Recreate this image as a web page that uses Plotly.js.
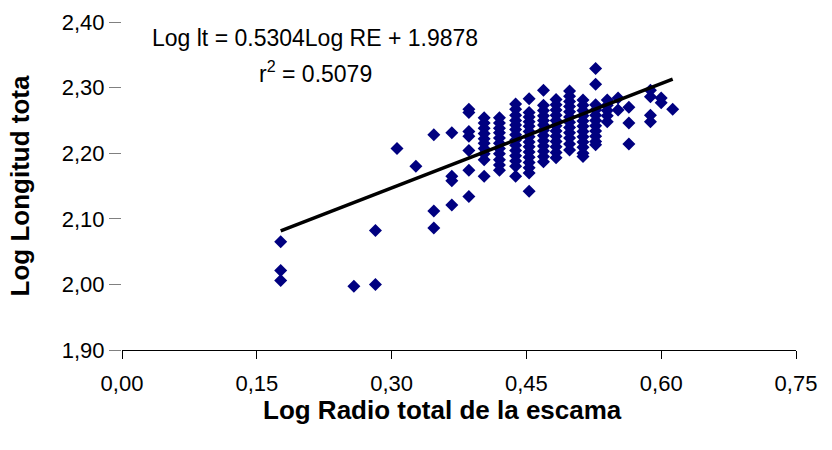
<!DOCTYPE html>
<html>
<head>
<meta charset="utf-8">
<script src="https://cdn.plot.ly/plotly-3.0.1.min.js"></script>
<style>html,body{margin:0;padding:0;background:#fff;}#chart{width:832px;height:450px;}</style>
</head>
<body>
<div id="chart"></div>
<script>
// x value of each column of points (Log Radio total de la escama)
const colRadio = [0.1766, 0.258, 0.282, 0.306, 0.327, 0.347, 0.367, 0.386, 0.403, 0.420, 0.438, 0.453, 0.469, 0.483, 0.498, 0.513, 0.527, 0.540, 0.552, 0.564, 0.588, 0.600, 0.6128];
// y values in each column (Log Longitud total)
const colLongitud = [
  [2.065, 2.021, 2.006],
  [1.997],
  [2.082, 2.000],
  [2.207],
  [2.180],
  [2.228, 2.112, 2.086],
  [2.231, 2.165, 2.158, 2.121],
  [2.267, 2.262, 2.233, 2.226, 2.204, 2.174, 2.134],
  [2.254, 2.246, 2.238, 2.230, 2.222, 2.215, 2.207, 2.199, 2.190, 2.165],
  [2.254, 2.246, 2.238, 2.231, 2.223, 2.215, 2.207, 2.199, 2.190, 2.182, 2.174],
  [2.275, 2.267, 2.258, 2.250, 2.243, 2.236, 2.228, 2.220, 2.212, 2.204, 2.196, 2.188, 2.180, 2.165],
  [2.283, 2.262, 2.255, 2.248, 2.241, 2.233, 2.225, 2.217, 2.210, 2.202, 2.194, 2.186, 2.178, 2.170, 2.142],
  [2.296, 2.273, 2.265, 2.257, 2.250, 2.243, 2.235, 2.227, 2.219, 2.211, 2.203, 2.195, 2.187],
  [2.282, 2.274, 2.266, 2.258, 2.250, 2.242, 2.234, 2.226, 2.218, 2.210, 2.201, 2.193],
  [2.295, 2.287, 2.279, 2.271, 2.263, 2.255, 2.247, 2.239, 2.231, 2.223, 2.214, 2.205],
  [2.281, 2.273, 2.265, 2.257, 2.249, 2.241, 2.233, 2.225, 2.217, 2.209, 2.200, 2.195],
  [2.329, 2.305, 2.274, 2.266, 2.258, 2.250, 2.242, 2.234, 2.226, 2.218, 2.213],
  [2.281, 2.273, 2.265, 2.257, 2.248],
  [2.284, 2.266],
  [2.270, 2.246, 2.214],
  [2.296, 2.286, 2.258, 2.248],
  [2.284, 2.277],
  [2.267]
];
// Regression line end points (Log lt = 0.5304 Log RE + 1.9878)
const trendRadio = [0.1766, 0.6128];
const trendLongitud = [2.0815, 2.3128];

const xTicks = [0, 0.15, 0.30, 0.45, 0.60, 0.75];
const yTicks = [1.90, 2.00, 2.10, 2.20, 2.30, 2.40];
const xTitle = 'Log Radio total de la escama';
const yTitle = 'Log Longitud tota';
const eqText = 'Log lt = 0.5304Log RE + 1.9878';
const r2Text = 'r<sup>2</sup> = 0.5079';

const px = [], py = [];
colRadio.forEach((x, i) => { colLongitud[i].forEach(y => { px.push(x); py.push(y); }); });

const FONT = 'Arial, "Liberation Sans", sans-serif';

const data = [
  { type: 'scatter', mode: 'markers', x: px, y: py,
    marker: { symbol: 'diamond', size: 10, color: '#000080', line: { width: 0 } },
    hoverinfo: 'skip', showlegend: false },
  { type: 'scatter', mode: 'lines', x: trendRadio, y: trendLongitud,
    line: { color: '#000000', width: 3.5 }, hoverinfo: 'skip', showlegend: false }
];

const layout = {
  width: 832, height: 450,
  margin: { l: 122, r: 36, t: 22, b: 100, pad: 0 },
  paper_bgcolor: '#ffffff', plot_bgcolor: '#ffffff',
  separators: ',.',
  font: { family: FONT, color: '#000000', size: 22 },
  showlegend: false,
  xaxis: {
    range: [0, 0.75], tickvals: xTicks, tickformat: '.2f',
    ticks: 'outside', ticklen: 8, tickwidth: 1, tickcolor: '#000000',
    showline: true, linecolor: '#000000', linewidth: 1,
    showgrid: false, zeroline: false, fixedrange: true,
    tickfont: { family: FONT, size: 22, color: '#000000' },
    ticklabelstandoff: 6,
    automargin: false
  },
  yaxis: {
    range: [1.9, 2.4], tickvals: yTicks, tickformat: '.2f',
    ticks: 'outside', ticklen: 12, tickwidth: 1, tickcolor: '#808080',
    showline: false, showgrid: false, zeroline: false, fixedrange: true,
    tickfont: { family: FONT, size: 22, color: '#000000' },
    title: { text: '<b>' + yTitle + '</b>', font: { family: FONT, size: 26, color: '#000000' }, standoff: 24 },
    automargin: false
  },
  annotations: [
    { xref: 'paper', yref: 'paper', x: 0.2864, y: 0.951, xanchor: 'center', yanchor: 'middle',
      text: eqText, showarrow: false, font: { family: FONT, size: 23, color: '#000000' } },
    { xref: 'paper', yref: 'paper', x: 0.2864, y: 0.8476, xanchor: 'center', yanchor: 'middle',
      text: r2Text, showarrow: false, font: { family: FONT, size: 23, color: '#000000' } },
    { xref: 'paper', yref: 'paper', x: 0.476, y: -0.183, xanchor: 'center', yanchor: 'middle',
      text: '<b>' + xTitle + '</b>', showarrow: false, font: { family: FONT, size: 26, color: '#000000' } }
  ]
};

Plotly.newPlot('chart', data, layout, { staticPlot: true, displayModeBar: false });
</script>
</body>
</html>
